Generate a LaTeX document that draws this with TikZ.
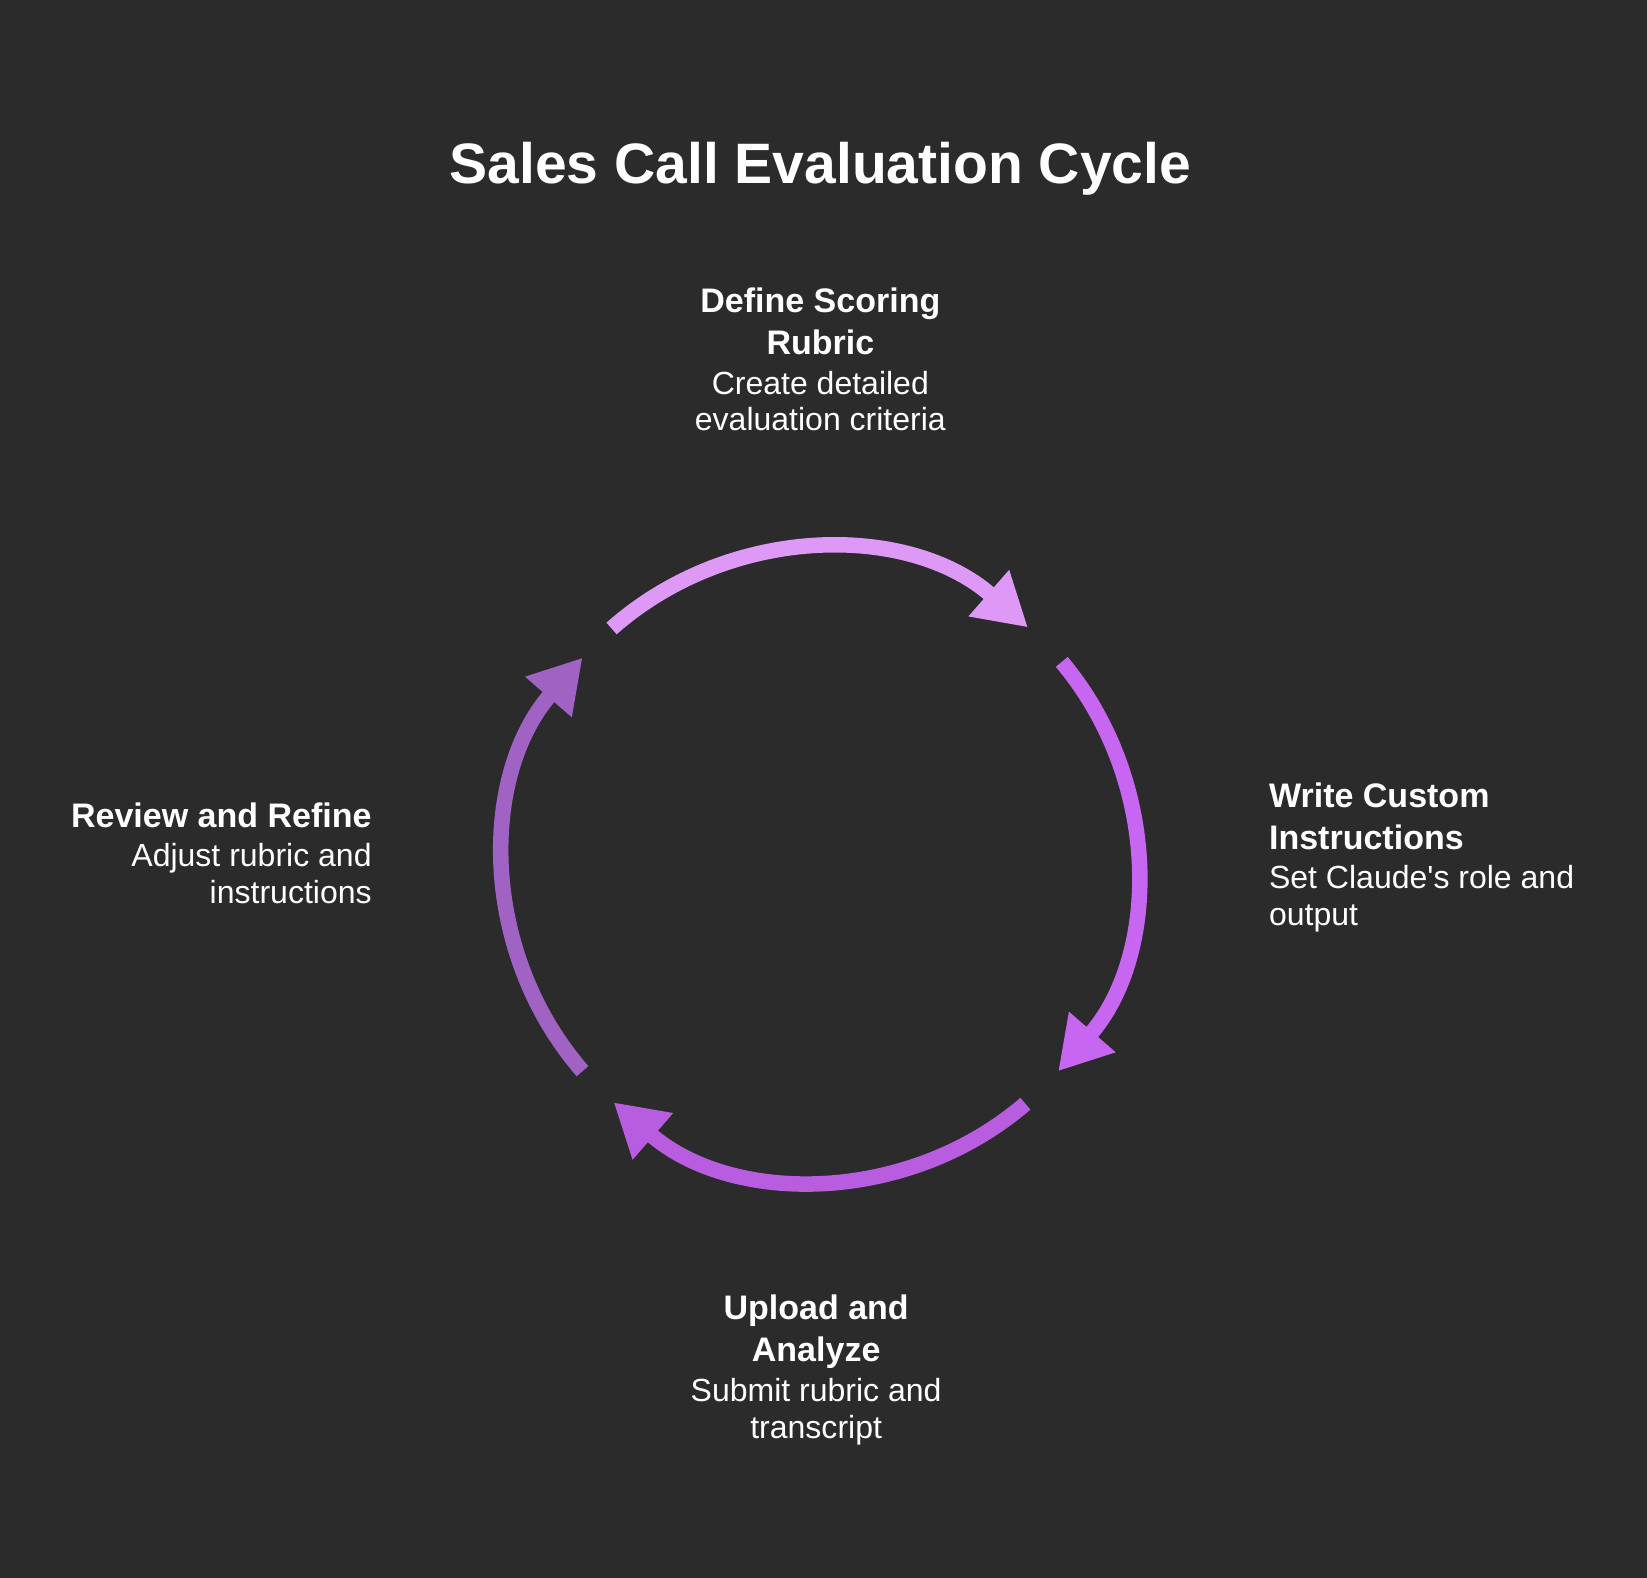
\documentclass[tikz,border=0pt]{standalone}
\usepackage{fontspec}
\setmainfont{Liberation Sans}
\usetikzlibrary{arrows.meta}
\definecolor{bg}{HTML}{2B2B2B}
\definecolor{cA}{HTML}{DD99F5}
\definecolor{cB}{HTML}{C766F0}
\definecolor{cC}{HTML}{B85CE0}
\definecolor{cD}{HTML}{A063C4}
\begin{document}
\begin{tikzpicture}[x=1.05pt,y=-1.05pt,
  arc/.style={line width=15.5pt,-{Triangle[length=52pt,width=58pt]}},
  head/.style={inner sep=0pt,text=white,font=\bfseries\fontsize{34}{42}\selectfont},
  desc/.style={inner sep=0pt,text=white,font=\fontsize{32}{36.8}\selectfont}]
\fill[bg] (0,0) rectangle (1568,1502);
\useasboundingbox (0,0) rectangle (1568,1502);
\node[inner sep=0pt,text=white,font=\bfseries\fontsize{57}{60}\selectfont] (title) at (781,161) {Sales Call Evaluation Cycle};
\coordinate (c) at (781,823);
\def\R{300}
\draw[arc,cA] (c) ++(-131.5:\R) coordinate (s1) arc[start angle=-131.5,end angle=-48.8,radius=\R] coordinate (e1);
\draw[arc,cB] (c) ++(-40:\R) coordinate (s2) arc[start angle=-40,end angle=41,radius=\R] coordinate (e2);
\draw[arc,cC] (c) ++(49.4:\R) coordinate (s3) arc[start angle=49.4,end angle=131,radius=\R] coordinate (e3);
\draw[arc,cD] (c) ++(139:\R) coordinate (s4) arc[start angle=139,end angle=221,radius=\R] coordinate (e4);
% labels
\node[head,align=center,anchor=north] (h1) at (781,274) {Define Scoring\\Rubric};
\node[desc,align=center,anchor=north] (d1) at (781,353) {Create detailed\\evaluation criteria};
\node[head,align=left,anchor=north west] (h2) at (1208,745) {Write Custom\\Instructions};
\node[desc,align=left,anchor=north west] (d2) at (1208,824) {Set Claude\textquotesingle s role and\\output};
\node[head,align=center,anchor=north] (h3) at (777,1233) {Upload and\\Analyze};
\node[desc,align=center,anchor=north] (d3) at (777,1312) {Submit rubric and\\transcript};
\node[head,align=right,anchor=north east] (h4) at (354,764) {Review and Refine};
\node[desc,align=right,anchor=north east] (d4) at (354,803) {Adjust rubric and\\instructions};
\end{tikzpicture}
\end{document}
